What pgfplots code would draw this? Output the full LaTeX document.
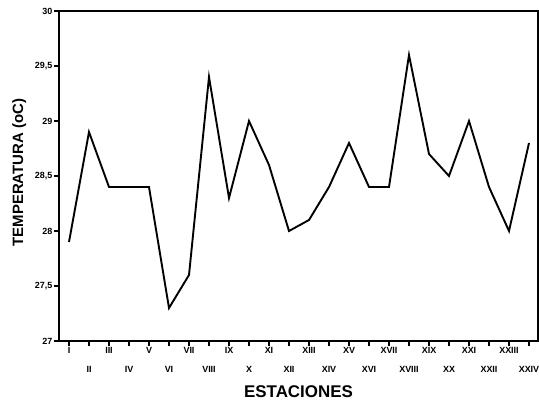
\documentclass[border=0pt]{standalone}
\usepackage{fontspec}
\setmainfont{Liberation Sans}
\usepackage{pgfplots}
\pgfplotsset{compat=1.18}
\begin{document}
\begin{tikzpicture}[x=1bp,y=1bp]
\path[use as bounding box] (-59bp,-61bp) rectangle (480bp,341bp);
\begin{axis}[
  scale only axis,
  width=479bp, height=330bp,
  xmin=0.5, xmax=24.45,
  ymin=27, ymax=30,
  axis line style={line width=1.8bp},
  tick style={line width=1.4bp, black},
  tick align=outside,
  major tick length=4.5bp,
  xtick pos=bottom, ytick pos=left,
  xtick={1,3,...,23},
  xticklabels={I,III,V,VII,IX,XI,XIII,XV,XVII,XIX,XXI,XXIII},
  extra x ticks={2,4,...,24},
  extra x tick labels={II,IV,VI,VIII,X,XII,XIV,XVI,XVIII,XX,XXII,XXIV},
  extra x tick style={xticklabel style={yshift=-19bp}},
  ytick={27,27.5,...,30},
  /pgf/number format/use comma,
  /pgf/number format/assume math mode=true,
  yticklabel style={/pgf/number format/fixed, /pgf/number format/precision=1},
  tick label style={font=\bfseries\fontsize{9}{9}\selectfont},
  xticklabel style={inner sep=1bp, yshift=-1bp},
  yticklabel style={inner sep=2bp},
  xlabel={ESTACIONES},
  ylabel={TEMPERATURA (oC)},
  xlabel style={font=\bfseries\fontsize{17}{17}\selectfont, at={(axis description cs:0.5,-0.155)}, anchor=center},
  ylabel style={font=\bfseries\fontsize{15}{15}\selectfont, at={(axis description cs:-0.083,0.51)}, anchor=center},
]
\addplot[black, line width=1.9bp, line join=miter] coordinates {
(1,27.9) (2,28.9) (3,28.4) (4,28.4) (5,28.4) (6,27.3) (7,27.6) (8,29.4)
(9,28.3) (10,29.0) (11,28.6) (12,28.0) (13,28.1) (14,28.4) (15,28.8) (16,28.4)
(17,28.4) (18,29.6) (19,28.7) (20,28.5) (21,29.0) (22,28.4) (23,28.0) (24,28.8)
};
\end{axis}
\end{tikzpicture}
\end{document}
